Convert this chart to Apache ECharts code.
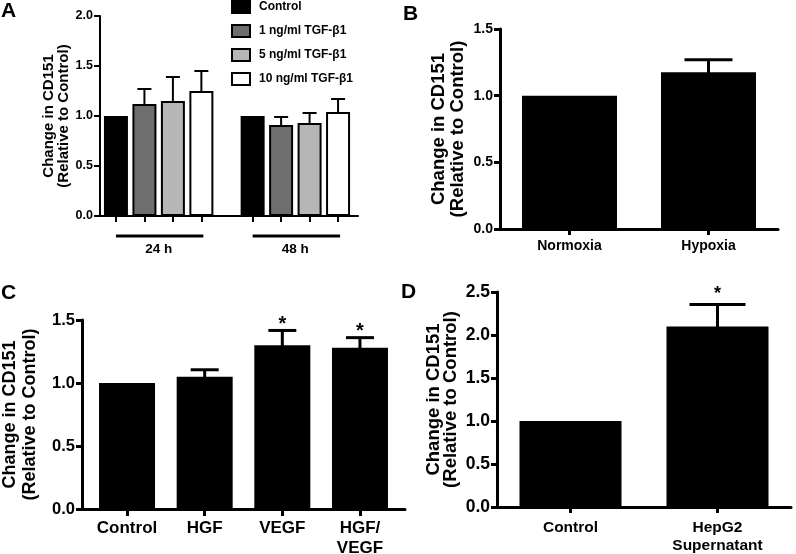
<!DOCTYPE html>
<html><head><meta charset="utf-8">
<script src="https://cdn.jsdelivr.net/npm/echarts@6/dist/echarts.min.js"></script>
<style>html,body{margin:0;padding:0;background:#fff}#c{width:796px;height:554px}</style>
</head><body><div id="c"></div>
<script>
// ---------- Panel A ----------
const aGroups = ['24 h', '48 h'];
const aSeriesNames = ['Control', '1 ng/ml TGF-β1', '5 ng/ml TGF-β1', '10 ng/ml TGF-β1'];
const aControl = [1.00, 1.00];
const a1ng = [1.12, 0.91];
const a5ng = [1.15, 0.93];
const a10ng = [1.25, 1.04];
const aControlErr = [0, 0];
const a1ngErr = [0.15, 0.08];
const a5ngErr = [0.24, 0.10];
const a10ngErr = [0.20, 0.13];
// ---------- Panel B ----------
const bCategories = ['Normoxia', 'Hypoxia'];
const bValues = [1.00, 1.175];
const bErrors = [0, 0.095];
// ---------- Panel C ----------
const cCategories = ['Control', 'HGF', 'VEGF', 'HGF/\nVEGF'];
const cValues = [1.00, 1.05, 1.30, 1.28];
const cErrors = [0, 0.055, 0.117, 0.08];
const cSignificant = [false, false, true, true];
// ---------- Panel D ----------
const dCategories = ['Control', 'HepG2\nSupernatant'];
const dValues = [1.00, 2.10];
const dErrors = [0, 0.255];
const dSignificant = [false, true];

const yTitle = 'Change in CD151\n(Relative to Control)';
const FONT = '"Liberation Sans", Arial, Helvetica, sans-serif';

const aVals = [aControl, a1ng, a5ng, a10ng];
const aErrs = [aControlErr, a1ngErr, a5ngErr, a10ngErr];
const aColors = ['#000000', '#6e6e6e', '#b6b6b6', '#ffffff'];
// layout: position of bar i in group g on the x value axis
const GROUP_STEP = 4.8;
const aPos = (g, i) => g * GROUP_STEP + i;
const aTickPositions = [];
aGroups.forEach((_, g) => aVals.forEach((__, i) => aTickPositions.push(aPos(g, i))));

function yAxisCfg(gridIndex, max, labelSize, nameSize, nameGap, lw, lineH) {
  return {
    type: 'value', gridIndex, min: 0, max, interval: 0.5,
    name: yTitle, nameLocation: 'middle', nameRotate: 90, nameGap, nameMoveOverlap: false,
    nameTextStyle: { fontFamily: FONT, fontWeight: 'bold', fontSize: nameSize, color: '#000', lineHeight: lineH, align: 'center' },
    axisLine: { show: true, onZero: false, lineStyle: { color: '#000', width: lw } },
    axisTick: { show: true, length: 6, lineStyle: { color: '#000', width: lw } },
    axisLabel: { fontFamily: FONT, fontWeight: 'bold', fontSize: labelSize, color: '#000', margin: 7, formatter: v => v.toFixed(1) },
    splitLine: { show: false }
  };
}

function errorSeries(xAxisIndex, yAxisIndex, data, capHalf, lw, sig, starSize, starShift) {
  return {
    type: 'custom', xAxisIndex, yAxisIndex, z: 5, silent: true, clip: false,
    data,
    renderItem: (params, api) => {
      const x = api.value(0), v = api.value(1), e = api.value(2);
      const children = [];
      const top = api.coord([x, v + e]);
      const base = api.coord([x, v]);
      if (e > 0) {
        children.push({ type: 'line', shape: { x1: base[0], y1: base[1] + 2, x2: top[0], y2: top[1] }, style: { stroke: '#000', lineWidth: lw } });
        children.push({ type: 'line', shape: { x1: top[0] - capHalf, y1: top[1], x2: top[0] + capHalf, y2: top[1] }, style: { stroke: '#000', lineWidth: lw } });
      }
      if (sig && sig[params.dataIndex]) {
        children.push({ type: 'text', style: { text: '*', x: top[0], y: top[1] + starShift, align: 'center', verticalAlign: 'bottom', font: 'bold ' + starSize + 'px ' + FONT, fill: '#000' } });
      }
      return { type: 'group', children };
    }
  };
}

const series = [];
// Panel A bars
aSeriesNames.forEach((name, i) => {
  series.push({
    name, type: 'bar', xAxisIndex: 0, yAxisIndex: 0, barWidth: 24, barGap: '-100%',
    itemStyle: { color: aColors[i], borderColor: '#000', borderWidth: 2 },
    data: aGroups.map((_, g) => [aPos(g, i), aVals[i][g]])
  });
});
// Panel A error bars
const aErrData = [];
aGroups.forEach((_, g) => aVals.forEach((vals, i) => aErrData.push([aPos(g, i), vals[g], aErrs[i][g]])));
series.push(errorSeries(0, 0, aErrData, 7, 2, null, 14, 0));
// Panel A group brackets
series.push({
  type: 'custom', xAxisIndex: 0, yAxisIndex: 0, silent: true, clip: false,
  data: aGroups.map((_, g) => [aPos(g, 0), aPos(g, aVals.length - 1)]),
  encode: { x: [0, 1] },
  renderItem: (params, api) => {
    const p1 = api.coord([api.value(0), 0]);
    const p2 = api.coord([api.value(1), 0]);
    return { type: 'group', children: [
      { type: 'line', shape: { x1: p1[0], y1: p1[1] + 20, x2: p2[0] + 2, y2: p1[1] + 20 }, style: { stroke: '#000', lineWidth: 3 } },
      { type: 'text', style: { text: aGroups[params.dataIndex], x: (p1[0] + p2[0]) / 2, y: p1[1] + 33, align: 'center', verticalAlign: 'middle', font: 'bold 13.5px ' + FONT, fill: '#000' } }
    ] };
  }
});
// Panel B
series.push({ type: 'bar', xAxisIndex: 1, yAxisIndex: 1, barWidth: 95, itemStyle: { color: '#000' }, data: bValues });
series.push(errorSeries(1, 1, bCategories.map((_, i) => [i, bValues[i], bErrors[i]]), 24, 3, null, 16, 0));
// Panel C
series.push({ type: 'bar', xAxisIndex: 2, yAxisIndex: 2, barWidth: 56, itemStyle: { color: '#000' }, data: cValues.map((v, i) => [i, v]) });
series.push(errorSeries(2, 2, cCategories.map((_, i) => [i, cValues[i], cErrors[i]]), 14, 3, cSignificant, 20, 4));
// Panel D
series.push({ type: 'bar', xAxisIndex: 3, yAxisIndex: 3, barWidth: 102, itemStyle: { color: '#000' }, data: dValues });
series.push(errorSeries(3, 3, dCategories.map((_, i) => [i, dValues[i], dErrors[i]]), 28, 3, dSignificant, 18, -1));

const catAxisLabel = (size, margin, lh) => ({ fontFamily: FONT, fontWeight: 'bold', fontSize: size, color: '#000', margin, lineHeight: lh });

const option = {
  backgroundColor: '#fff',
  animation: false,
  textStyle: { fontFamily: FONT },
  grid: [
    { left: 100, top: 16, width: 258, height: 200, outerBoundsMode: 'none', containLabel: false },
    { left: 500, top: 29, width: 278, height: 200, outerBoundsMode: 'none', containLabel: false },
    { left: 82, top: 320, width: 323, height: 189, outerBoundsMode: 'none', containLabel: false },
    { left: 497, top: 292, width: 294, height: 215, outerBoundsMode: 'none', containLabel: false }
  ],
  legend: {
    data: aSeriesNames, orient: 'vertical', left: 231, top: 0, icon: 'rect',
    itemWidth: 18, itemHeight: 12, itemGap: 10, padding: 0,
    textStyle: { fontFamily: FONT, fontWeight: 'bold', fontSize: 12, color: '#000', padding: [0, 0, 0, 4] },
    selectedMode: false
  },
  xAxis: [
    { type: 'value', gridIndex: 0, min: -0.56, max: 8.5,
      axisLine: { show: true, onZero: false, lineStyle: { color: '#000', width: 2 } },
      axisTick: { show: true, customValues: aTickPositions, length: 6, lineStyle: { color: '#000', width: 2 } },
      axisLabel: { show: false }, splitLine: { show: false } },
    { type: 'category', gridIndex: 1, data: bCategories,
      axisLine: { show: true, onZero: false, lineStyle: { color: '#000', width: 3 } },
      axisTick: { show: true, alignWithLabel: true, length: 6, lineStyle: { color: '#000', width: 3 } },
      axisLabel: catAxisLabel(14, 8, 18) },
    { type: 'value', gridIndex: 2, min: -0.58, max: 3.58,
      axisLine: { show: true, onZero: false, lineStyle: { color: '#000', width: 3 } },
      axisTick: { show: true, customValues: cCategories.map((_, i) => i), length: 7, lineStyle: { color: '#000', width: 3 } },
      axisLabel: Object.assign(catAxisLabel(17, 9, 20), { customValues: cCategories.map((_, i) => i), formatter: v => cCategories[Math.round(v)] || '' }),
      splitLine: { show: false } },
    { type: 'category', gridIndex: 3, data: dCategories,
      axisLine: { show: true, onZero: false, lineStyle: { color: '#000', width: 3 } },
      axisTick: { show: true, alignWithLabel: true, length: 6, lineStyle: { color: '#000', width: 3 } },
      axisLabel: catAxisLabel(15.5, 12, 18) }
  ],
  yAxis: [
    yAxisCfg(0, 2, 12.5, 15, 29, 2, 15),
    yAxisCfg(1, 1.5, 14, 18.5, 33, 3, 19),
    yAxisCfg(2, 1.5, 16.5, 18, 42, 3, 20),
    yAxisCfg(3, 2.5, 17.5, 18.5, 38, 3, 17)
  ],
  graphic: [
    { type: 'text', left: 1, top: 1, style: { text: 'A', font: 'bold 21px ' + FONT, fill: '#000' } },
    { type: 'text', left: 403, top: 4, style: { text: 'B', font: 'bold 21px ' + FONT, fill: '#000' } },
    { type: 'text', left: 1, top: 283, style: { text: 'C', font: 'bold 21px ' + FONT, fill: '#000' } },
    { type: 'text', left: 401, top: 282, style: { text: 'D', font: 'bold 21px ' + FONT, fill: '#000' } }
  ],
  series
};
const chart = echarts.init(document.getElementById('c'), null, { renderer: 'canvas' });
chart.setOption(option);
</script>
</body></html>
